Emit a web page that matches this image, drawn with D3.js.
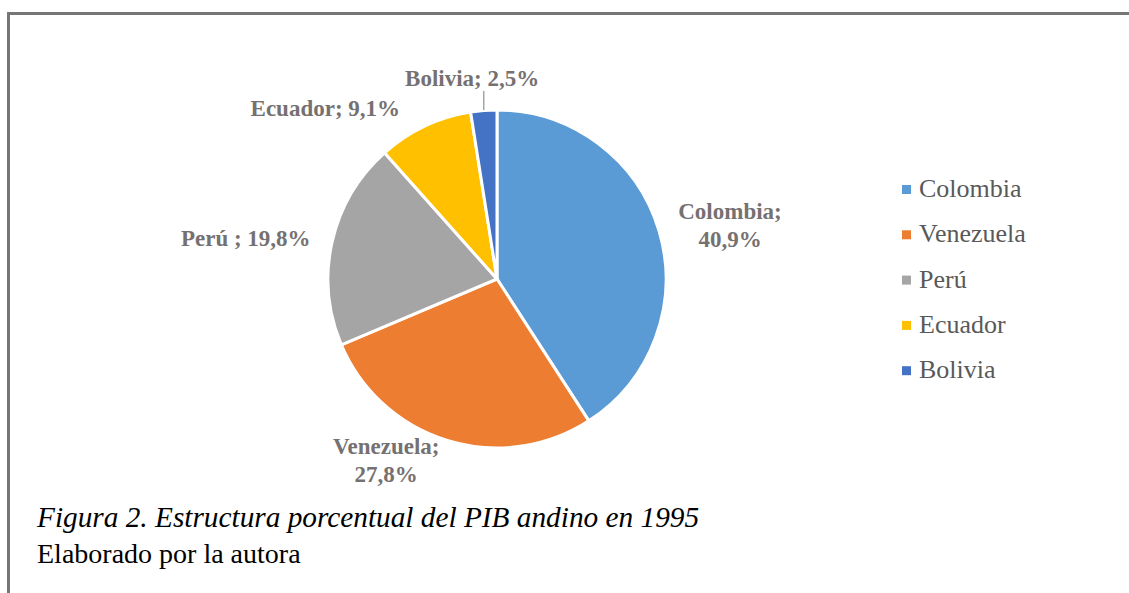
<!DOCTYPE html>
<html>
<head>
<meta charset="utf-8">
<script src="https://cdn.jsdelivr.net/npm/d3@7"></script>
<style>
  body { margin: 0; background: #fff; }
  svg { display: block; }
</style>
</head>
<body>
<svg></svg>
<script>
var svg = d3.select("svg");
var width = 1129;
var height = 593;

// data
var countries = ["Colombia", "Venezuela", "Perú", "Ecuador", "Bolivia"];
var shares = [40.9, 27.8, 19.8, 9.1, 2.5];
var labelNames = ["Colombia;", "Venezuela;", "Perú ;", "Ecuador;", "Bolivia;"];
var shareLabels = ["40,9%", "27,8%", "19,8%", "9,1%", "2,5%"];
var colors = ["#5B9BD5", "#ED7D31", "#A5A5A5", "#FFC000", "#4472C4"];
var caption = "Figura 2. Estructura porcentual del PIB andino en 1995";
var source = "Elaborado por la autora";

var serif = "Liberation Serif, Times New Roman, serif";
var cx = 497, cy = 279, radius = 169;

svg.attr("width", width).attr("height", height);

// frame (top and left rule)
svg.append("path")
    .attr("d", "M8.5,593V13.5H1129")
    .attr("fill", "none")
    .attr("stroke", "#767676")
    .attr("stroke-width", 3);

var data = countries.map(function(c, i) {
  return {name: c, value: shares[i], label: labelNames[i], pct: shareLabels[i], color: colors[i]};
});

var pie = d3.pie().sort(null).value(d => d.value);
var arcs = pie(data);

var arc = d3.arc().innerRadius(0).outerRadius(radius);

var g = svg.append("g").attr("transform", "translate(" + cx + "," + cy + ")");

g.selectAll("path.slice")
  .data(arcs)
  .enter().append("path")
    .attr("class", "slice")
    .attr("d", arc)
    .attr("fill", d => d.data.color)
    .attr("stroke", "#fff")
    .attr("stroke-width", 3);

// labels, placed just outside the pie
var labelArc = d3.arc().innerRadius(radius + 20).outerRadius(radius + 20);

arcs.forEach(function(d) {
  var p = labelArc.centroid(d);
  var mid = (d.startAngle + d.endAngle) / 2;
  var s = Math.sin(mid);
  var t = g.append("text")
      .style("font-family", serif)
      .style("font-weight", "bold")
      .style("font-size", "23px")
      .attr("fill", "#767171")
      .attr("text-anchor", "middle");
  var twoLines = d.data.name == "Colombia" || d.data.name == "Venezuela";
  if (twoLines) {
    t.append("tspan").attr("x", 0).attr("y", -6).text(d.data.label);
    t.append("tspan").attr("x", 0).attr("y", 22).text(d.data.pct);
  } else {
    t.append("tspan").attr("x", 0).attr("y", 8).text(d.data.label + " " + d.data.pct);
  }
  var w = t.node().getBBox().width;
  if (Math.abs(s) < 0.2) {
    // near top: centred above, with a leader line
    var top = radius + 33;
    t.attr("transform", "translate(" + (s * top - 9) + "," + (-Math.cos(mid) * top) + ")");
    g.append("line")
        .attr("x1", s * radius).attr("y1", -radius)
        .attr("x2", s * radius).attr("y2", -radius - 19)
        .attr("stroke", "#A5A5A5")
        .attr("stroke-width", 1.5);
  } else {
    var x = s > 0 ? p[0] + w / 2 : p[0] - w / 2 - 2;
    // labels high on the left sit a little further out
    if (s < 0 && Math.cos(mid) > 0.8) x -= 14;
    t.attr("transform", "translate(" + x + "," + p[1] + ")");
  }
});

// legend
var legend = svg.append("g").attr("transform", "translate(902,188)");
var rows = legend.selectAll("g")
  .data(data)
  .enter().append("g")
    .attr("transform", (d, i) => "translate(0," + (i * 45.3) + ")");
rows.append("rect")
    .attr("x", 0).attr("y", -3)
    .attr("width", 9).attr("height", 9)
    .attr("fill", d => d.color);
rows.append("text")
    .attr("x", 17)
    .attr("y", 9)
    .style("font-family", serif)
    .style("font-size", "26px")
    .attr("fill", "#595959")
    .text(d => d.name);

// caption
svg.append("text")
    .attr("x", 37).attr("y", 527)
    .style("font-family", serif)
    .style("font-style", "italic")
    .style("font-size", "29.3px")
    .attr("fill", "#000")
    .text(caption);
svg.append("text")
    .attr("x", 37).attr("y", 563)
    .style("font-family", serif)
    .style("font-size", "28px")
    .attr("fill", "#000")
    .text(source);
</script>
</body>
</html>
